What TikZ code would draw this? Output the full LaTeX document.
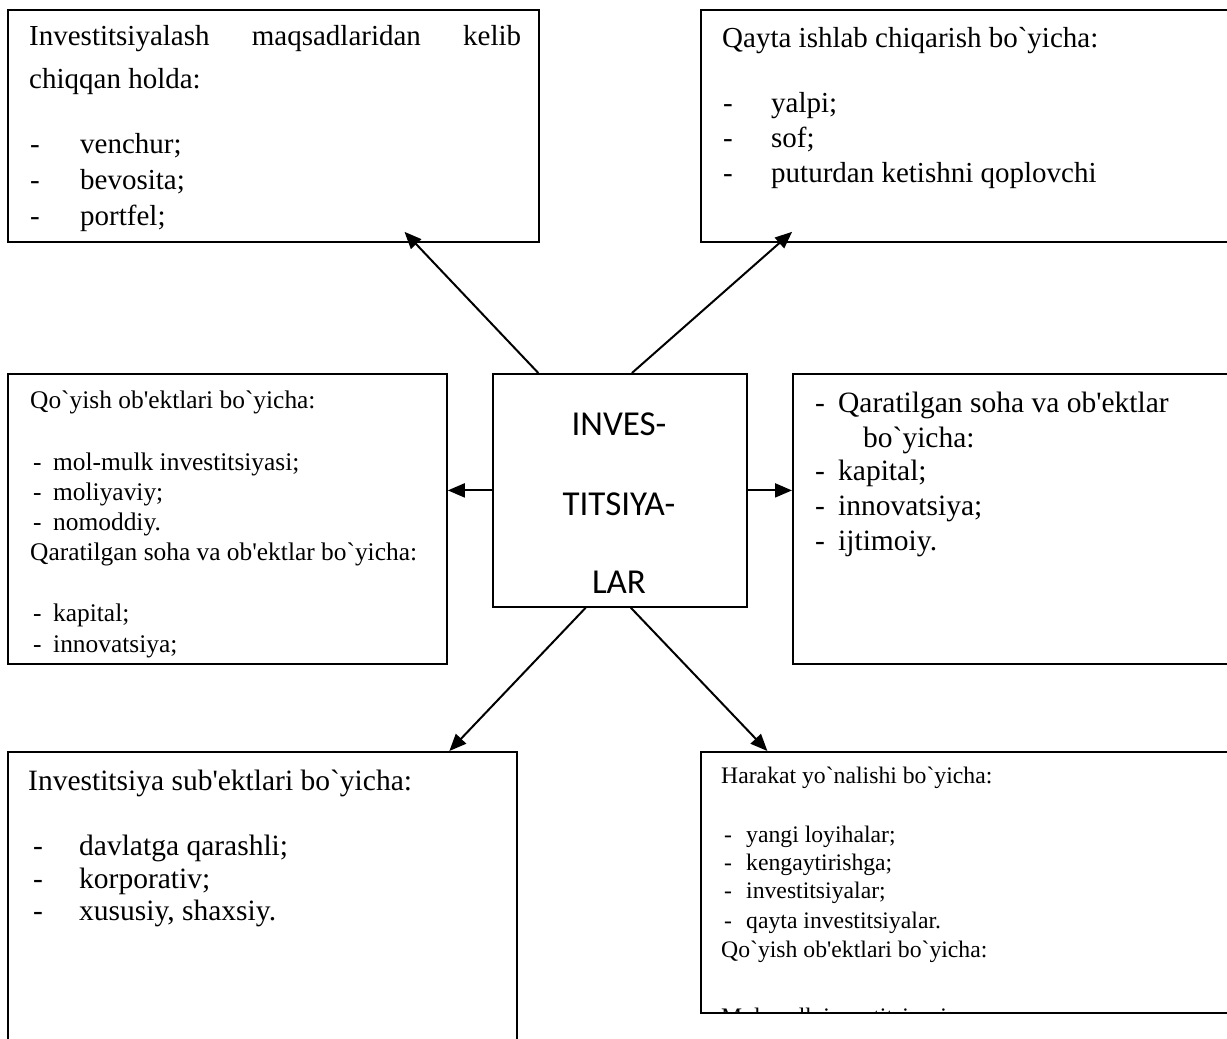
\documentclass[tikz,border=0pt]{standalone}
\usepackage{fontspec}
\newfontfamily\serif{Liberation Serif}
\newfontfamily\calfont{Carlito}
\usetikzlibrary{calc}
\usetikzlibrary{arrows.meta}

\tikzset{
  box/.style={draw, line width=1.8pt, anchor=north west, inner sep=0pt},
  txt/.style={anchor=base west, inner sep=0pt, font=\serif\fontsize{#1}{#1}\selectfont},
  link/.style={->, line width=2pt},
}

\begin{document}
\begin{tikzpicture}[x=1pt, y=-1pt, >={Triangle[length=17pt,width=14pt]}]
\useasboundingbox (0,0) rectangle (1227,1039);
\node[box, minimum width=531pt, minimum height=232pt] (goals) at (7,9) {};
\node[box, minimum width=560pt, minimum height=232pt] (repro) at (700,9) {};
\node[box, minimum width=439pt, minimum height=290pt] (objs) at (7,373) {};
\node[box, minimum width=254pt, minimum height=233pt] (inv) at (492,373) {};
\node[box, minimum width=460pt, minimum height=290pt] (area) at (792,373) {};
\node[box, minimum width=509pt, minimum height=330pt] (subj) at (7,751) {};
\node[box, minimum width=560pt, minimum height=261pt] (move) at (700,751) {};

\node[anchor=base, inner sep=0pt, font=\calfont\fontsize{35}{35}\selectfont] (inv1) at (619,435) {INVES-};
\node[anchor=base, inner sep=0pt, font=\calfont\fontsize{35}{35}\selectfont] (inv2) at (619,515) {TITSIYA-};
\node[anchor=base, inner sep=0pt, font=\calfont\fontsize{35}{35}\selectfont] (inv3) at (619,593) {LAR};

\node[txt=29] (goals1) at (29,45) {\makebox[492pt][s]{Investitsiyalash maqsadlaridan kelib}};
\node[txt=29] (goals2) at (29,88) {chiqqan holda:};
\foreach \t/\y in {venchur;/153, bevosita;/189, portfel;/225}
  \node[txt=29] (goals\y) at (30,\y) {\makebox[50pt][l]{-}\t};

\node[txt=29] (repro1) at (722,47) {Qayta ishlab chiqarish bo`yicha:};
\foreach \t/\y in {yalpi;/112, sof;/147, puturdan ketishni qoplovchi/182}
  \node[txt=29] (repro\y) at (723,\y) {\makebox[48pt][l]{-}\t};

\begin{scope}
\clip (objs.north west) rectangle (objs.south east);
\node[txt=25.4] (objs1) at (30,408) {Qo`yish ob'ektlari bo`yicha:};
\foreach \t/\y in {mol-mulk investitsiyasi;/470, moliyaviy;/500, nomoddiy./530, kapital;/621, innovatsiya;/652}
  \node[txt=25.4] (objs\y) at (33,\y) {\makebox[20pt][l]{-}\t};
\node[txt=25.4] (objs2) at (30,560) {Qaratilgan soha va ob'ektlar bo`yicha:};
\end{scope}

\node[txt=29.5] (area1) at (815,412) {\makebox[23pt][l]{-}Qaratilgan soha va ob'ektlar};
\node[txt=29.5] (area2) at (863,447) {bo`yicha:};
\foreach \t/\y in {kapital;/480, innovatsiya;/515, ijtimoiy./550}
  \node[txt=29.5] (area\y) at (815,\y) {\makebox[23pt][l]{-}\t};

\node[txt=29.5] (subj1) at (28,790) {Investitsiya sub'ektlari bo`yicha:};
\foreach \t/\y in {davlatga qarashli;/855, korporativ;/888, {xususiy, shaxsiy.}/920}
  \node[txt=29.5] (subj\y) at (33,\y) {\makebox[46pt][l]{-}\t};

\node[txt=23.7] (move1) at (721,783) {Harakat yo`nalishi bo`yicha:};
\foreach \t/\y in {yangi loyihalar;/842, kengaytirishga;/870, investitsiyalar;/898, qayta investitsiyalar./928}
  \node[txt=23.7] (move\y) at (724,\y) {\makebox[22pt][l]{-}\t};
\node[txt=23.7] (move2) at (721,957) {Qo`yish ob'ektlari bo`yicha:};
\begin{scope}
\clip (move.north west) rectangle (move.south east);
\node[txt=23.7] (move3) at (721,1024) {Mol-mulk investitsiyasi;};
\end{scope}

\draw[link] ($(inv.north west)!.181!(inv.north east)$) -- ($(goals.south west)!.746!(goals.south east)+(0,-11)$);
\draw[link] ($(inv.north west)!.547!(inv.north east)$) -- ($(repro.south west)!.164!(repro.south east)+(0,-11)$);
\draw[link] (inv.west) -- (inv.west -| objs.east);
\draw[link] (inv.east) -- (inv.east -| area.west);
\draw[link] ($(inv.south west)!.366!(inv.south east)$) -- ($(subj.north west)!.866!(subj.north east)$);
\draw[link] ($(inv.south west)!.543!(inv.south east)$) -- ($(move.north west)!.120!(move.north east)$);
\end{tikzpicture}
\end{document}
